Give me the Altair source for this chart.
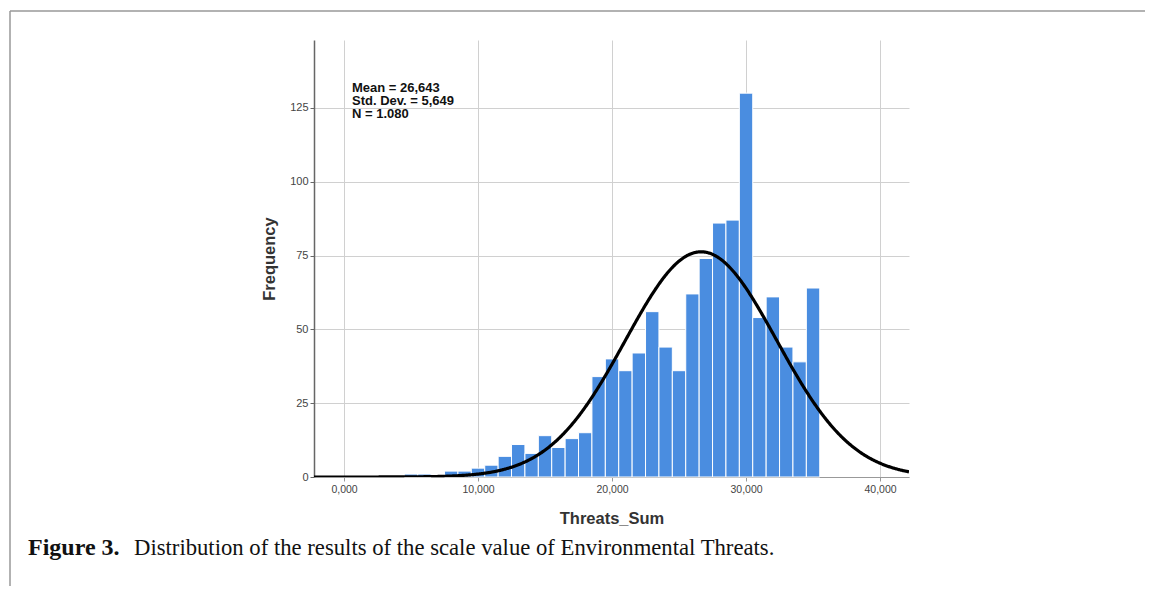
import altair as alt
import pandas as pd

# Histogram data (bin centres, width 1)
bin_centers = [5, 6, 7, 8, 9, 10, 11, 12, 13, 14, 15, 16, 17, 18, 19, 20,
               21, 22, 23, 24, 25, 26, 27, 28, 29, 30, 31, 32, 33, 34, 35]
frequencies = [1, 1, 0, 2, 2, 3, 4, 7, 11, 8, 14, 10, 13, 15, 34, 40,
               36, 42, 56, 44, 36, 62, 74, 86, 87, 130, 54, 61, 44, 39, 64]

mean_val = 26.643
sd_val = 5.649
n_val = 1080
stats_lines = ["Mean = 26,643", "Std. Dev. = 5,649", "N = 1.080"]
caption_bold = "Figure 3."
caption_rest = "Distribution of the results of the scale value of Environmental Threats."

x_ticks = [0, 10, 20, 30, 40]
y_ticks = [0, 25, 50, 75, 100, 125]
x_domain = [-2.24, 42.16]
y_domain = [0, 148]

df = pd.DataFrame({
    "x0": [c - 0.5 for c in bin_centers],
    "x1": [c + 0.5 for c in bin_centers],
    "freq": frequencies,
})
df = df[df["freq"] > 0]

xscale = alt.Scale(domain=x_domain, nice=False, zero=False)
yscale = alt.Scale(domain=y_domain, nice=False)

label_expr = "replace(format(datum.value, '.3f'), '.', ',')"

bars = alt.Chart(df).mark_rect(color="#4A8DE0", stroke="white", strokeWidth=1).encode(
    x=alt.X("x0:Q", scale=xscale,
            axis=alt.Axis(values=x_ticks, labelExpr=label_expr, title="Threats_Sum",
                          grid=True, gridColor="#d0d0d0", domainColor="#999999",
                          tickColor="#999999", tickSize=4, labelFontSize=10.5,
                          labelColor="#444444", labelPadding=3,
                          titleFontSize=16.5, titleFontWeight="bold",
                          titleColor="#333333", titlePadding=16,
                          labelFont="Liberation Sans", titleFont="Liberation Sans")),
    x2="x1:Q",
    y=alt.Y("freq:Q", scale=yscale,
            axis=alt.Axis(values=y_ticks, title="Frequency", grid=True,
                          gridColor="#d0d0d0", domainColor="#666666", domainWidth=1.5,
                          tickColor="#666666", tickSize=4, labelFontSize=11,
                          labelColor="#444444", labelPadding=2,
                          titleFontSize=16.5, titleFontWeight="bold",
                          titleColor="#333333", titlePadding=12,
                          labelFont="Liberation Sans", titleFont="Liberation Sans")),
    y2=alt.datum(0),
)

curve = alt.Chart(alt.sequence(x_domain[0], x_domain[1] + 0.01, 0.05, as_="x")).transform_calculate(
    dens=f"{n_val} * exp(-0.5 * pow((datum.x - {mean_val}) / {sd_val}, 2)) / ({sd_val} * sqrt(2 * PI))"
).mark_line(color="black", strokeWidth=3.2, clip=True).encode(
    x=alt.X("x:Q", scale=xscale),
    y=alt.Y("dens:Q", scale=yscale),
)

stats = alt.Chart(pd.DataFrame({"t": [0]})).mark_text(
    text=stats_lines, align="left", baseline="top", font="Liberation Sans",
    fontSize=13, fontWeight="bold", lineHeight=13, color="#111111"
).encode(x=alt.value(38), y=alt.value(42))

cap1 = alt.Chart(pd.DataFrame({"t": [0]})).mark_text(
    text=caption_bold, align="left", baseline="middle", font="Liberation Serif",
    fontSize=24, fontWeight="bold", color="#111111"
).encode(x=alt.value(-286), y=alt.value(508))

cap2 = alt.Chart(pd.DataFrame({"t": [0]})).mark_text(
    text=caption_rest, align="left", baseline="middle", font="Liberation Serif",
    fontSize=22.7, color="#111111"
).encode(x=alt.value(-180), y=alt.value(508))

frame_top = alt.Chart(pd.DataFrame({"t": [0]})).mark_rule(color="#999999", strokeWidth=1.5).encode(
    x=alt.value(-304), x2=alt.value(831), y=alt.value(-29))
frame_left = alt.Chart(pd.DataFrame({"t": [0]})).mark_rule(color="#999999", strokeWidth=1.5).encode(
    x=alt.value(-304), y=alt.value(-29), y2=alt.value(546))

chart = alt.layer(bars, curve, stats, cap1, cap2, frame_top, frame_left).properties(
    width=595, height=437,
    background="white",
    autosize=alt.AutoSizeParams(type="none"),
    padding={"left": 306, "top": 32, "right": 236, "bottom": 109},
).configure_view(strokeWidth=0, stroke="transparent")

chart.save("out.html", embed_options={"renderer": "svg", "actions": False})
